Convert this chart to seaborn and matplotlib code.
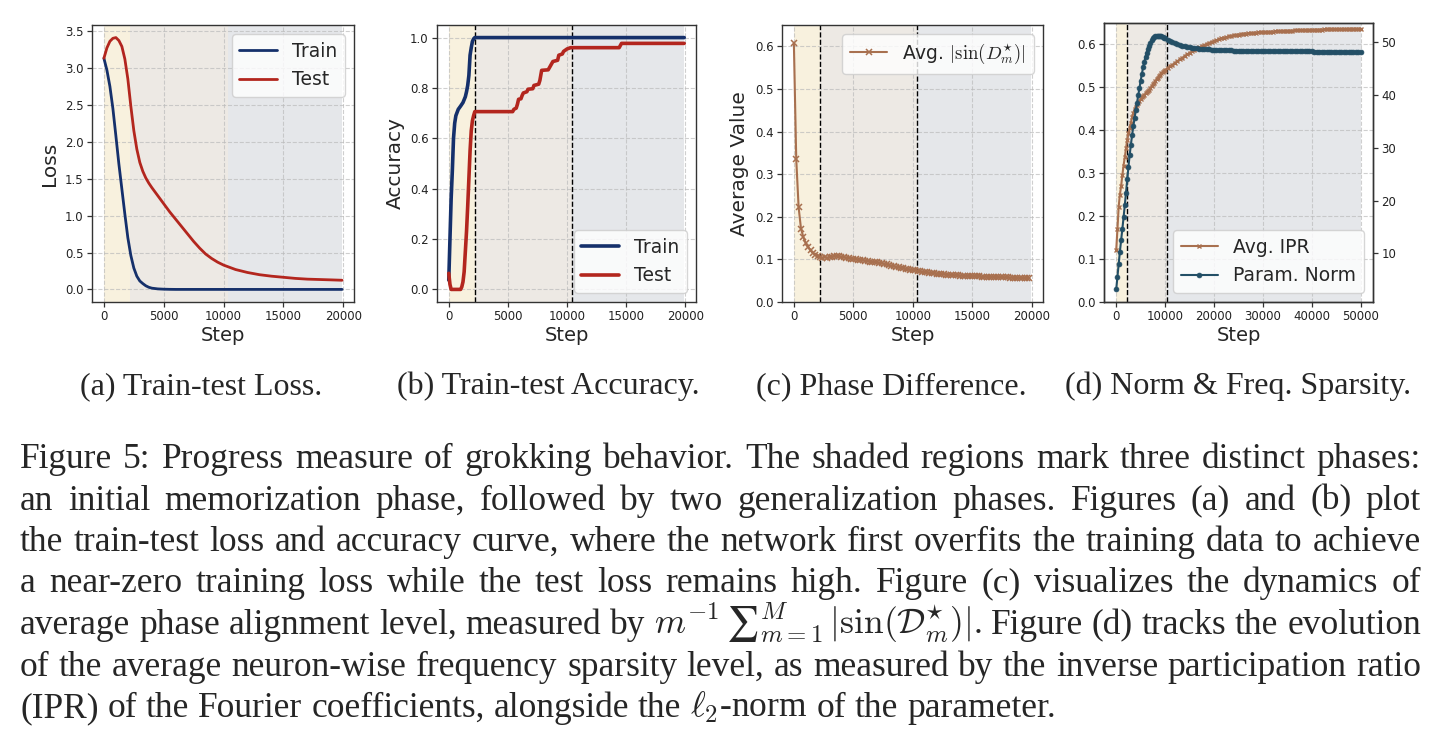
import numpy as np
import matplotlib
matplotlib.use("Agg")
import matplotlib.pyplot as plt
import seaborn as sns

# ---------------- data ----------------
loss_steps = [0, 250, 500, 750, 1000, 1250, 1500, 1750, 2000, 2250, 2500, 2750, 3000, 3250,
              3500, 3750, 4000, 4500, 5000, 5500, 6000, 6500, 7000, 7500, 8000, 8500, 9000,
              9500, 10000, 10500, 11000, 12000, 13000, 14000, 15000, 16000, 17000, 18000,
              19000, 19900]
train_loss = [3.13, 2.97, 2.75, 2.45, 2.08, 1.70, 1.36, 1.02, 0.70, 0.46, 0.29, 0.18, 0.115,
              0.08, 0.05, 0.03, 0.018, 0.008, 0.004, 0.002, 0.001, 0.001, 0.001, 0.001, 0.001,
              0.001, 0.001, 0.001, 0.001, 0.001, 0.001, 0.001, 0.001, 0.001, 0.001, 0.001,
              0.001, 0.001, 0.001, 0.001]
test_loss = [3.13, 3.27, 3.36, 3.40, 3.41, 3.37, 3.29, 3.12, 2.85, 2.48, 2.15, 1.90, 1.72,
             1.60, 1.51, 1.44, 1.38, 1.27, 1.16, 1.05, 0.95, 0.85, 0.75, 0.65, 0.56, 0.48,
             0.42, 0.37, 0.33, 0.30, 0.27, 0.23, 0.20, 0.18, 0.165, 0.15, 0.14, 0.135, 0.13,
             0.125]

train_acc_steps = [0, 100, 200, 300, 400, 500, 600, 800, 1000, 1200, 1400, 1500, 1600, 1700,
                   1800, 1900, 2000, 2100, 2200, 19900]
train_acc = [0.037, 0.20, 0.36, 0.47, 0.60, 0.66, 0.69, 0.715, 0.728, 0.742, 0.765, 0.785,
             0.81, 0.85, 0.93, 0.96, 0.985, 0.995, 1.0, 1.0]
test_acc_steps = [0, 100, 200, 1000, 1100, 1200, 1300, 1400, 1500, 1600, 1700, 1800, 1900,
                  2000, 2100, 2200, 5400, 5500, 5700, 5800, 5900, 6100, 6200, 6300, 6600,
                  6700, 7100, 7200, 7600, 7700, 7850, 8400, 8500, 8800, 9200, 9300, 9600,
                  9700, 10000, 10300, 14400, 14600, 19900]
test_acc = [0.064, 0.02, 0.0, 0.0, 0.01, 0.03, 0.07, 0.15, 0.23, 0.33, 0.44, 0.55, 0.63,
            0.67, 0.69, 0.706, 0.706, 0.715, 0.72, 0.735, 0.755, 0.757, 0.77, 0.78, 0.785,
            0.795, 0.797, 0.81, 0.815, 0.83, 0.87, 0.872, 0.88, 0.905, 0.91, 0.93, 0.935,
            0.945, 0.955, 0.96, 0.96, 0.977, 0.977]

phase_steps = np.arange(0, 20000, 200)
phase_diff = [0.608, 0.335, 0.222, 0.172, 0.152, 0.138, 0.128, 0.121, 0.115, 0.111,
              0.107, 0.105, 0.104, 0.105, 0.104, 0.105, 0.106, 0.107, 0.108, 0.107,
              0.106, 0.105, 0.104, 0.103, 0.102, 0.101, 0.100, 0.099, 0.098, 0.098,
              0.097, 0.096, 0.095, 0.094, 0.094, 0.093, 0.092, 0.091, 0.089, 0.088,
              0.086, 0.085, 0.084, 0.082, 0.081, 0.080, 0.079, 0.078, 0.077, 0.076,
              0.075, 0.074, 0.073, 0.072, 0.071, 0.070, 0.0695, 0.069, 0.068, 0.067,
              0.0665, 0.066, 0.0655, 0.065, 0.0645, 0.064, 0.0635, 0.063, 0.0628, 0.0625,
              0.062, 0.0617, 0.0614, 0.0611, 0.061, 0.0607, 0.0605, 0.0603, 0.060, 0.0598,
              0.0596, 0.0595, 0.0592, 0.059, 0.0588, 0.0586, 0.0584, 0.0582, 0.058, 0.0578,
              0.0576, 0.0574, 0.0572, 0.057, 0.0568, 0.0565, 0.0563, 0.0561, 0.0559, 0.0557]

norm_steps = list(range(0, 10001, 250)) + list(range(10500, 50001, 500))
param_norm = [3.2, 5.6, 8.0, 10.3, 12.5, 14.6, 16.8, 19.1, 21.5, 24.0,
              26.4, 28.6, 30.6, 32.4, 34.1, 35.6, 37.1, 38.5, 39.9, 41.3,
              42.7, 44.0, 45.2, 46.3, 47.2, 48.0, 48.7, 49.3, 49.8, 50.3,
              50.7, 51.0, 51.15, 51.2, 51.2, 51.2, 51.15, 51.1, 51.0, 50.85,
              50.7,
              50.4, 50.15, 49.95, 49.75, 49.6, 49.45, 49.3, 49.2, 49.1, 49.0,
              48.92, 48.86, 48.8, 48.75, 48.7, 48.66, 48.62, 48.59, 48.56, 48.53,
              48.5, 48.48, 48.46, 48.44, 48.42, 48.41, 48.4, 48.39, 48.38, 48.37,
              48.36, 48.35, 48.35, 48.34, 48.33, 48.33, 48.32, 48.32, 48.31, 48.31,
              48.3, 48.3, 48.29, 48.29, 48.28, 48.28, 48.27, 48.27, 48.26, 48.26,
              48.25, 48.25, 48.24, 48.24, 48.23, 48.23, 48.22, 48.22, 48.21, 48.21,
              48.2, 48.2, 48.19, 48.19, 48.18, 48.18, 48.17, 48.17, 48.16, 48.16,
              48.15, 48.15, 48.14, 48.14, 48.13, 48.13, 48.12, 48.12, 48.11, 48.1]
avg_ipr = [0.121, 0.170, 0.222, 0.250, 0.270, 0.295, 0.318, 0.337, 0.358, 0.378,
           0.393, 0.405, 0.418, 0.430, 0.440, 0.449, 0.455, 0.460, 0.464, 0.469,
           0.473, 0.477, 0.480, 0.483, 0.486, 0.489, 0.492, 0.495, 0.499, 0.503,
           0.507, 0.511, 0.515, 0.519, 0.523, 0.527, 0.530, 0.533, 0.536, 0.539,
           0.541,
           0.545, 0.549, 0.553, 0.557, 0.561, 0.565, 0.569, 0.573, 0.577, 0.580,
           0.584, 0.587, 0.590, 0.593, 0.596, 0.599, 0.601, 0.604, 0.606, 0.608,
           0.610, 0.612, 0.614, 0.616, 0.617, 0.619, 0.620, 0.621, 0.622, 0.623,
           0.624, 0.625, 0.6255, 0.626, 0.6265, 0.627, 0.6275, 0.628, 0.6283, 0.6286,
           0.629, 0.6293, 0.6296, 0.630, 0.6303, 0.6306, 0.6309, 0.6312, 0.6315, 0.6318,
           0.632, 0.6323, 0.6326, 0.6328, 0.633, 0.6332, 0.6334, 0.6336, 0.6338, 0.634,
           0.6342, 0.6344, 0.6346, 0.6348, 0.635, 0.6352, 0.6353, 0.6354, 0.6355, 0.6357,
           0.6358, 0.6359, 0.636, 0.6361, 0.6362, 0.6363, 0.6364, 0.6365, 0.6366, 0.6367]

phase_bounds = [0, 2200, 10380]
phase_colors = ["#f8f1de", "#ede9e4", "#e5e7ea"]

subcaptions = ["(a) Train-test Loss.", "(b) Train-test Accuracy.",
               "(c) Phase Difference.", "(d) Norm & Freq. Sparsity."]
caption_lines = [
    "Figure 5: Progress measure of grokking behavior. The shaded regions mark three distinct phases:",
    "an initial memorization phase, followed by two generalization phases. Figures (a) and (b) plot",
    "the train-test loss and accuracy curve, where the network first overfits the training data to achieve",
    "a near-zero training loss while the test loss remains high. Figure (c) visualizes the dynamics of",
    "average phase alignment level, measured by $m^{-1}\\,\u2211_{m=1}^{M}\\,|\\sin(\\mathcal{D}^{\\star}_{m})|$. Figure (d) tracks the evolution",
    "of the average neuron-wise frequency sparsity level, as measured by the inverse participation ratio",
    r"(IPR) of the Fourier coefficients, alongside the $\ell_2$-norm of the parameter.",
]

# ---------------- style ----------------
sns.set_theme(style="ticks")
plt.rcParams["font.family"] = ["DejaVu Sans"]
plt.rcParams["mathtext.fontset"] = "cm"
plt.rcParams["axes.edgecolor"] = "#333333"
plt.rcParams["axes.linewidth"] = 1.0
plt.rcParams["xtick.color"] = "#333333"
plt.rcParams["ytick.color"] = "#333333"
plt.rcParams["xtick.labelcolor"] = "#222222"
plt.rcParams["ytick.labelcolor"] = "#222222"

W, H = 1441, 739
fig = plt.figure(figsize=(W / 100, H / 100), dpi=100)


def rect(l, r, t, b):
    return [l / W, 1 - b / H, (r - l) / W, (b - t) / H]


TICK = 8.5
LAB = 14
LEG = 13.5


def style_ax(ax, end, dashed=True):
    for i in range(3):
        x0 = phase_bounds[i]
        x1 = phase_bounds[i + 1] if i < 2 else end
        ax.axvspan(x0, x1, color=phase_colors[i], lw=0, zorder=0)
    if dashed:
        for b in phase_bounds[1:]:
            ax.axvline(b, color="black", ls="--", lw=1.0, zorder=1.6)
    ax.grid(True, ls="--", color="#bbbbbb", lw=0.8, alpha=0.7)
    ax.tick_params(labelsize=TICK, length=3.5, width=0.9, pad=2.5)
    for s in ax.spines.values():
        s.set_visible(True)
        s.set_color("#333333")
    ax.set_xlabel("Step", fontsize=LAB, labelpad=2)


NAVY = "#15306b"
RED = "#b3261e"
BROWN = "#a8704f"
TEAL = "#234f66"

# (a)
ax = fig.add_axes(rect(92, 354, 25, 302))
style_ax(ax, 19900, dashed=False)
sns.lineplot(x=loss_steps, y=train_loss, ax=ax, color=NAVY, lw=2.0, label="Train",
             estimator=None, sort=False)
sns.lineplot(x=loss_steps, y=test_loss, ax=ax, color=RED, lw=2.0, label="Test",
             estimator=None, sort=False)
ax.set_ylabel("Loss", fontsize=LAB + 0.5)
ax.legend(loc="upper right", fontsize=LEG, framealpha=0.8, handlelength=2.0)

# (b)
ax = fig.add_axes(rect(437, 696, 25, 302))
style_ax(ax, 19900)
sns.lineplot(x=train_acc_steps, y=train_acc, ax=ax, color=NAVY, lw=2.6, label="Train",
             estimator=None, sort=False)
sns.lineplot(x=test_acc_steps, y=test_acc, ax=ax, color=RED, lw=2.6, label="Test",
             estimator=None, sort=False)
ax.set_ylabel("Accuracy", fontsize=LAB + 0.5)
ax.legend(loc="lower right", fontsize=LEG, framealpha=0.8, handlelength=2.0)

# (c)
ax = fig.add_axes(rect(782, 1043, 25, 302))
style_ax(ax, 19950)
sns.lineplot(x=phase_steps, y=phase_diff, ax=ax, color=BROWN, lw=1.5, marker="x",
             markersize=5, markeredgewidth=1.1, markeredgecolor=BROWN,
             label=r"Avg. $|\sin(D_m^{\star})|$", estimator=None, sort=False)
ax.set_ylim(0, 0.65)
ax.set_ylabel("Average Value", fontsize=LAB + 0.5)
ax.legend(loc="upper right", fontsize=LEG, framealpha=0.8, handlelength=2.0)

# (d)
ax = fig.add_axes(rect(1104, 1373, 23, 302))
style_ax(ax, 50000)
sns.lineplot(x=norm_steps, y=avg_ipr, ax=ax, color=BROWN, lw=1.5, marker="x",
             markersize=3.5, markeredgewidth=1.0, markeredgecolor=BROWN,
             label="Avg. IPR", estimator=None, sort=False, legend=False)
ax.set_ylim(0, 0.65)
ax2 = ax.twinx()
sns.lineplot(x=norm_steps, y=param_norm, ax=ax2, color=TEAL, lw=1.5, marker="o",
             markersize=3.5, markeredgewidth=0.5, markeredgecolor=TEAL,
             label="Param. Norm", estimator=None, sort=False, legend=False)
ax2.set_ylabel("")
ax.set_ylabel("")
ax2.tick_params(labelsize=TICK, length=3.5, width=0.9, pad=2.5)
for s in ax2.spines.values():
    s.set_color("#333333")
h1, l1 = ax.get_legend_handles_labels()
h2, l2 = ax2.get_legend_handles_labels()
ax2.legend(h1 + h2, l1 + l2, loc="lower right", fontsize=LEG, framealpha=0.8,
           handlelength=2.0)

# ---------------- captions ----------------
SERIF = ["Liberation Serif", "DejaVu Serif"]
SUB_SIZE = 23
CAP_SIZE = 25.5
for cx, txt in zip([201, 548, 891, 1238], subcaptions):
    fig.text(cx / W, 1 - 394 / H, txt, ha="center", va="baseline",
             family=SERIF, fontsize=SUB_SIZE)

renderer = fig.canvas.get_renderer()
L, R = 20, 1421


def width_of(t):
    return t.get_window_extent(renderer).width


probe1 = fig.text(0, 0, "x x", family=SERIF, fontsize=CAP_SIZE)
probe2 = fig.text(0, 0, "xx", family=SERIF, fontsize=CAP_SIZE)
space_w = width_of(probe1) - width_of(probe2)
probe1.remove()
probe2.remove()


def tokenize(line):
    if "$" not in line:
        return line.split(" ")
    segs = line.split("$")
    tokens = []
    buf = ""
    for k, seg in enumerate(segs):
        if k % 2 == 1:
            buf += "$" + seg + "$"
        else:
            ws = seg.split(" ")
            buf += ws[0]
            for w in ws[1:]:
                tokens.append(buf)
                buf = w
    tokens.append(buf)
    return [t for t in tokens if t != ""]


for i, line in enumerate(caption_lines):
    yb = 468 + 41.5 * i
    tokens = tokenize(line)
    texts = [fig.text(0, 1 - yb / H, w, ha="left", va="baseline", family=SERIF,
                      fontsize=CAP_SIZE) for w in tokens]
    widths = [width_of(t) for t in texts]
    last = i == len(caption_lines) - 1
    if last:
        gap = space_w
    else:
        gap = (R - L - sum(widths)) / (len(texts) - 1)
    x = L
    for t, w in zip(texts, widths):
        t.set_x(x / W)
        x += w + gap

fig.savefig("out.png", dpi=100)
